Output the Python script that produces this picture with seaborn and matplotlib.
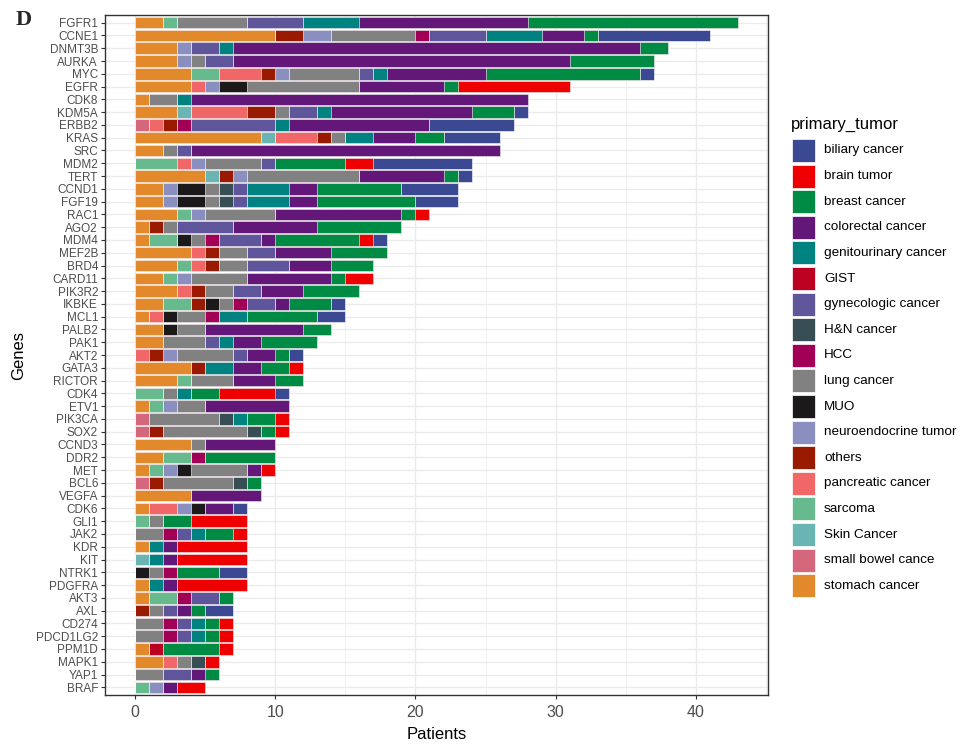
import matplotlib
matplotlib.use("Agg")
import matplotlib.pyplot as plt
from matplotlib.patches import Rectangle
import numpy as np
import seaborn as sns

# ---- data (patients per gene, split by primary tumor) ----
genes = ["FGFR1", "CCNE1", "DNMT3B", "AURKA", "MYC", "EGFR", "CDK8", "KDM5A", "ERBB2", "KRAS",
         "SRC", "MDM2", "TERT", "CCND1", "FGF19", "RAC1", "AGO2", "MDM4", "MEF2B", "BRD4",
         "CARD11", "PIK3R2", "IKBKE", "MCL1", "PALB2", "PAK1", "AKT2", "GATA3", "RICTOR", "CDK4",
         "ETV1", "PIK3CA", "SOX2", "CCND3", "DDR2", "MET", "BCL6", "VEGFA", "CDK6", "GLI1",
         "JAK2", "KDR", "KIT", "NTRK1", "PDGFRA", "AKT3", "AXL", "CD274", "PDCD1LG2", "PPM1D",
         "MAPK1", "YAP1", "BRAF"]

tumors = ["biliary cancer", "brain tumor", "breast cancer", "colorectal cancer",
          "genitourinary cancer", "GIST", "gynecologic cancer", "H&N cancer", "HCC",
          "lung cancer", "MUO", "neuroendocrine tumor", "others", "pancreatic cancer",
          "sarcoma", "Skin Cancer", "small bowel cance", "stomach cancer"]

tumor_colors = ["#3B4992", "#EE0000", "#008B45", "#631879", "#008280", "#BB0021",
                "#5F559B", "#374E55", "#A20056", "#808180", "#1B1919", "#8A8FC0",
                "#991A00", "#F16767", "#66BA8E", "#6AB4B4", "#D4677B", "#E2892B"]

biliary = [0, 8, 0, 0, 1, 0, 0, 1, 6, 4,  0, 7, 1, 4, 3, 0, 0, 1, 0, 0,
           0, 0, 1, 2, 0, 0, 1, 0, 0, 1,  0, 0, 0, 0, 0, 0, 0, 0, 1, 0,
           0, 0, 0, 2, 0, 0, 2, 0, 0, 0,  0, 0, 0]
brain = [0, 0, 0, 0, 0, 8, 0, 0, 0, 0,  0, 2, 0, 0, 0, 1, 0, 1, 0, 0,
         2, 0, 0, 0, 0, 0, 0, 1, 0, 4,  0, 1, 1, 0, 0, 1, 0, 0, 0, 4,
         1, 5, 5, 0, 5, 0, 0, 1, 1, 1,  1, 0, 2]
breast = [15, 1, 2, 6, 11, 1, 0, 3, 0, 2,  0, 5, 1, 6, 7, 1, 6, 6, 4, 3,
          1, 4, 3, 5, 2, 4, 1, 2, 2, 2,  0, 2, 1, 0, 5, 0, 1, 0, 0, 2,
          2, 0, 0, 3, 0, 1, 1, 1, 1, 4,  0, 1, 0]
colorectal = [12, 3, 29, 24, 7, 6, 24, 10, 10, 3,  22, 0, 6, 2, 2, 9, 6, 1, 4, 3,
              6, 3, 1, 0, 7, 2, 2, 2, 3, 0,  6, 0, 0, 5, 0, 1, 0, 5, 2, 0,
              0, 1, 1, 0, 1, 0, 1, 0, 0, 0,  0, 1, 1]
genitourinary = [4, 4, 1, 0, 1, 0, 1, 1, 1, 2,  0, 0, 0, 3, 3, 0, 0, 0, 0, 0,
                 0, 0, 0, 2, 0, 1, 0, 2, 0, 1,  0, 1, 0, 0, 0, 0, 0, 0, 0, 0,
                 1, 1, 1, 0, 1, 0, 0, 1, 1, 0,  0, 0, 0]
gist = [0, 0, 0, 0, 0, 0, 0, 0, 0, 0,  0, 0, 0, 0, 0, 0, 0, 0, 0, 0,
        0, 0, 0, 0, 0, 0, 0, 0, 0, 0,  0, 0, 0, 0, 0, 0, 0, 0, 0, 0,
        0, 0, 0, 0, 0, 0, 0, 0, 0, 1,  0, 0, 0]
gynecologic = [4, 4, 2, 2, 1, 0, 0, 2, 6, 0,  1, 1, 0, 1, 1, 0, 4, 3, 2, 3,
               0, 2, 2, 0, 0, 1, 1, 0, 0, 0,  0, 0, 0, 0, 0, 0, 0, 0, 0, 0,
               1, 0, 0, 0, 0, 2, 1, 1, 1, 0,  0, 2, 0]
head_neck = [0, 0, 0, 0, 0, 0, 0, 0, 0, 0,  0, 0, 0, 1, 1, 0, 0, 0, 0, 0,
             0, 0, 0, 0, 0, 0, 0, 0, 0, 0,  0, 1, 1, 0, 0, 0, 1, 0, 0, 0,
             0, 0, 0, 0, 0, 0, 0, 0, 0, 0,  1, 0, 0]
hcc = [0, 1, 0, 0, 0, 0, 0, 0, 1, 0,  0, 0, 0, 0, 0, 0, 0, 1, 0, 0,
       0, 0, 1, 1, 0, 0, 0, 0, 0, 0,  0, 0, 0, 0, 1, 0, 0, 0, 0, 0,
       1, 0, 0, 1, 0, 1, 0, 1, 1, 0,  0, 0, 0]
lung = [5, 6, 0, 1, 5, 8, 2, 1, 0, 1,  1, 4, 8, 1, 1, 5, 1, 1, 2, 2,
        4, 2, 1, 2, 2, 3, 4, 0, 3, 1,  2, 5, 6, 1, 0, 4, 5, 0, 0, 1,
        2, 0, 0, 1, 0, 0, 1, 2, 2, 0,  1, 2, 0]
muo = [0, 0, 0, 0, 0, 2, 0, 0, 0, 0,  0, 0, 0, 2, 2, 0, 0, 1, 0, 0,
       0, 0, 1, 1, 1, 0, 0, 0, 0, 0,  0, 0, 0, 0, 0, 1, 0, 0, 1, 0,
       0, 0, 0, 1, 0, 0, 0, 0, 0, 0,  0, 0, 0]
neuroendocrine = [0, 2, 1, 1, 1, 1, 0, 0, 0, 0,  0, 1, 1, 1, 1, 1, 0, 0, 0, 0,
                  1, 0, 0, 0, 0, 0, 1, 0, 0, 0,  1, 0, 0, 0, 0, 1, 0, 0, 1, 0,
                  0, 0, 0, 0, 0, 0, 0, 0, 0, 0,  0, 0, 1]
others = [0, 2, 0, 0, 1, 0, 0, 2, 1, 1,  0, 0, 1, 0, 0, 0, 1, 0, 1, 1,
          0, 1, 1, 0, 0, 0, 1, 1, 0, 0,  0, 0, 1, 0, 0, 0, 1, 0, 0, 0,
          0, 0, 0, 0, 0, 0, 1, 0, 0, 0,  0, 0, 0]
pancreatic = [0, 0, 0, 0, 3, 1, 0, 4, 1, 3,  0, 1, 0, 0, 0, 0, 0, 0, 1, 1,
              0, 1, 0, 1, 0, 0, 1, 0, 0, 0,  0, 0, 0, 0, 0, 0, 0, 0, 2, 0,
              0, 0, 0, 0, 0, 0, 0, 0, 0, 0,  1, 0, 0]
sarcoma = [1, 0, 0, 0, 2, 0, 0, 0, 0, 0,  0, 3, 0, 0, 0, 1, 0, 2, 0, 1,
           1, 0, 2, 0, 0, 0, 0, 0, 1, 2,  1, 0, 0, 0, 2, 1, 0, 0, 0, 1,
           0, 0, 0, 0, 0, 2, 0, 0, 0, 0,  0, 0, 1]
skin = [0, 0, 0, 0, 0, 0, 0, 1, 0, 1,  0, 0, 1, 0, 0, 0, 0, 0, 0, 0,
        0, 0, 0, 0, 0, 0, 0, 0, 0, 0,  0, 0, 0, 0, 0, 0, 0, 0, 0, 0,
        0, 0, 1, 0, 0, 0, 0, 0, 0, 0,  0, 0, 0]
small_bowel = [0, 0, 0, 0, 0, 0, 0, 0, 1, 0,  0, 0, 0, 0, 0, 0, 0, 0, 0, 0,
               0, 0, 0, 0, 0, 0, 0, 0, 0, 0,  0, 1, 1, 0, 0, 0, 1, 0, 0, 0,
               0, 0, 0, 0, 0, 0, 0, 0, 0, 0,  0, 0, 0]
stomach = [2, 10, 3, 3, 4, 4, 1, 3, 0, 9,  2, 0, 5, 2, 2, 3, 1, 1, 4, 3,
           2, 3, 2, 1, 2, 2, 0, 4, 3, 0,  1, 0, 0, 4, 2, 1, 0, 4, 1, 0,
           0, 1, 0, 0, 1, 1, 0, 0, 0, 1,  2, 0, 0]

counts = dict(zip(tumors, [biliary, brain, breast, colorectal, genitourinary, gist,
                           gynecologic, head_neck, hcc, lung, muo, neuroendocrine,
                           others, pancreatic, sarcoma, skin, small_bowel, stomach]))
palette = dict(zip(tumors, tumor_colors))

W, H = 967, 747

# ---- figure ----
sns.set_theme(style="white")
plt.rcParams["font.family"] = ["Liberation Sans", "DejaVu Sans"]

fig = plt.figure(figsize=(W / 100, H / 100), dpi=100)
ax = fig.add_axes([105 / W, 1 - 695 / H, 663 / W, 680 / H])

# stacked bars: stomach cancer at the left, biliary cancer at the right end
cum = np.zeros(len(genes))
layers = []
for t in tumors[::-1]:
    cum = cum + np.array(counts[t])
    layers.append((t, cum.copy()))

# draw the longest cumulative layer first, shorter ones on top
for t, c in reversed(layers):
    sns.barplot(x=c, y=genes, orient="h", color=palette[t], saturation=1,
                width=0.9, edgecolor="white", linewidth=0.4, errorbar=None, ax=ax)

ax.set_xlim(-2.15, 45.15)
ax.set_ylim(len(genes) - 0.4, -0.6)
ax.set_xticks([0, 10, 20, 30, 40])
ax.set_xticks([5, 15, 25, 35, 45], minor=True)
ax.set_axisbelow(True)
ax.grid(True, which="major", color="#EBEBEB", linewidth=1.0)
ax.grid(True, which="minor", axis="x", color="#EBEBEB", linewidth=0.5)

for s in ax.spines.values():
    s.set_visible(True)
    s.set_color("#333333")
    s.set_linewidth(1.0)

ax.tick_params(axis="both", which="major", length=3, width=0.8, color="#333333",
               labelcolor="#4D4D4D", direction="out", left=True, bottom=True)
ax.tick_params(axis="both", which="minor", length=0)
ax.tick_params(axis="y", labelsize=8.5, pad=2)
ax.tick_params(axis="x", labelsize=11.5, pad=4)

ax.set_xlabel("Patients", fontsize=12, color="black", labelpad=5)
ax.set_ylabel("Genes", fontsize=12, color="black", labelpad=7)

# legend, laid out like the ggplot guide
fig.text(791 / W, 1 - 124 / H, "primary_tumor", fontsize=12, color="black",
         ha="left", va="center")
for i, t in enumerate(tumors):
    top = 139 + i * 25.6
    fig.add_artist(Rectangle((792 / W, 1 - (top + 23) / H), 23 / W, 23 / H,
                             transform=fig.transFigure, facecolor=palette[t],
                             edgecolor="white", linewidth=0.5))
    fig.text(824 / W, 1 - (top + 11.5) / H, t, fontsize=9.7, color="black",
             ha="left", va="center")

fig.text(16 / W, 1 - 10 / H, "D", fontfamily=["Liberation Serif", "DejaVu Serif"],
         fontweight="bold", fontsize=16, va="top", ha="left")

fig.savefig("out.png", dpi=100)
